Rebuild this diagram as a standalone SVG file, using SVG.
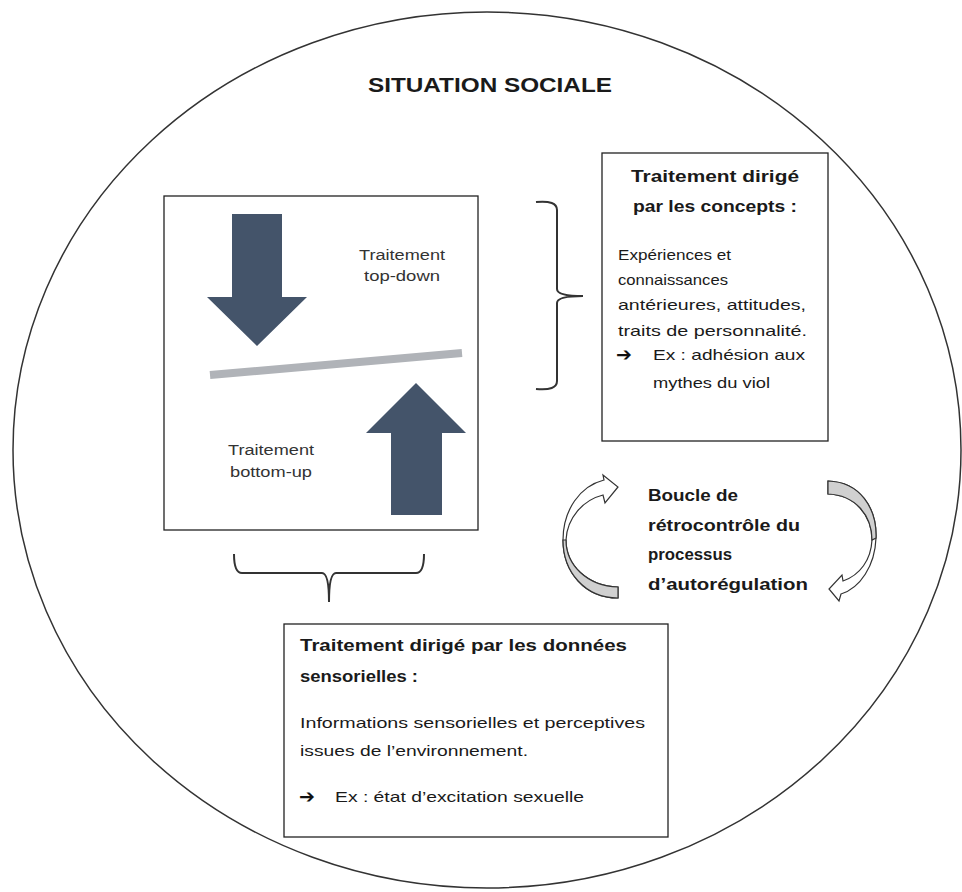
<svg xmlns="http://www.w3.org/2000/svg" width="962" height="892" viewBox="0 0 962 892">
<style>
.t{font-family:"Liberation Sans",Arial,sans-serif;fill:#1a1a1a}
.b{font-weight:bold}
.body{font-size:15px}
.small{font-size:14px;fill:#333}
.box{fill:#fff;stroke:#222;stroke-width:1.3}
.brace{fill:none;stroke:#333;stroke-width:2}
.big{fill:#44546a}
.curv{fill:#fff;stroke:#333;stroke-width:1.2}
.shade{fill:#d0d0d0;stroke:#333;stroke-width:1.2}
.ar{font-family:"DejaVu Sans",sans-serif;font-size:19px;font-weight:bold;fill:#111}
</style>
<rect width="962" height="892" fill="#fff"/>
<g id="situation">
<ellipse cx="487" cy="450" rx="474" ry="438" fill="none" stroke="#333" stroke-width="1.5"/>
<text class="t b" x="490" y="92" font-size="20" text-anchor="middle" textLength="244" lengthAdjust="spacingAndGlyphs">SITUATION SOCIALE</text>
</g>
<g id="processing">
<rect class="box" x="164" y="196" width="314" height="334"/>
<polygon class="big" points="232,214 282,214 282,297 307,297 257,346 207,297 232,297"/>
<line x1="210" y1="375" x2="462" y2="353" stroke="#b0b3b8" stroke-width="8"/>
<polygon class="big" points="416,383 466,433 442,433 442,515 391,515 391,433 366,433"/>
<text class="t small" x="402" y="260" text-anchor="middle" textLength="86" lengthAdjust="spacingAndGlyphs">Traitement</text>
<text class="t small" x="402" y="281" text-anchor="middle" textLength="76" lengthAdjust="spacingAndGlyphs">top-down</text>
<text class="t small" x="271" y="455" text-anchor="middle" textLength="86" lengthAdjust="spacingAndGlyphs">Traitement</text>
<text class="t small" x="271" y="477" text-anchor="middle" textLength="82" lengthAdjust="spacingAndGlyphs">bottom-up</text>
</g>
<g id="connectors">
<path class="brace" d="M536,202 Q557,200 557,210 L557,289 Q557,296 583,296 Q557,296 557,303 L557,381 Q557,391 536,389"/>
<path class="brace" d="M234,554 Q234,573 242,573 L322,573 Q329,573 329,602 Q329,573 336,573 L416,573 Q424,573 424,554"/>
</g>
<g id="concepts">
<rect class="box" x="602" y="153" width="226" height="288"/>
<text class="t b" x="715" y="182" font-size="16.5" text-anchor="middle" textLength="168" lengthAdjust="spacingAndGlyphs">Traitement dirigé</text>
<text class="t b" x="715" y="212" font-size="16.5" text-anchor="middle" textLength="164" lengthAdjust="spacingAndGlyphs">par les concepts :</text>
<text class="t body" x="618" y="260" textLength="113" lengthAdjust="spacingAndGlyphs">Expériences et</text>
<text class="t body" x="618" y="285" textLength="110" lengthAdjust="spacingAndGlyphs">connaissances</text>
<text class="t body" x="618" y="310" textLength="188" lengthAdjust="spacingAndGlyphs">antérieures, attitudes,</text>
<text class="t body" x="618" y="336" textLength="189" lengthAdjust="spacingAndGlyphs">traits de personnalité.</text>
<text class="ar" x="616" y="361">➔</text>
<text class="t body" x="653" y="360" textLength="152" lengthAdjust="spacingAndGlyphs">Ex : adhésion aux</text>
<text class="t body" x="653" y="388" textLength="117" lengthAdjust="spacingAndGlyphs">mythes du viol</text>
</g>
<g id="loop">
<path class="curv" d="M618,598 C585,598 563,572 563,540 C563,510 580,486 604,480 L603,475 L618,487 L605,503 L603,495 C583,500 567,518 566,540 C566,565 587,586 618,587 Z"/>
<path class="shade" d="M618,598 C585,598 563,572 563,540 L566,540 C566,565 587,586 618,587 Z"/>
<path class="curv" d="M828,481 C860,482 877,508 876,538 C875,566 860,588 841,594 L839,601 L829,589 L842,575 L843,581 C860,575 871,560 872,540 C872,515 855,495 828,494 Z"/>
<path class="shade" d="M828,481 C860,482 877,508 876,538 L872,540 C872,515 855,495 828,494 Z"/>
<text class="t b" x="648" y="501" font-size="17" textLength="90" lengthAdjust="spacingAndGlyphs">Boucle de</text>
<text class="t b" x="648" y="531" font-size="17" textLength="152" lengthAdjust="spacingAndGlyphs">rétrocontrôle du</text>
<text class="t b" x="648" y="560" font-size="17" textLength="84" lengthAdjust="spacingAndGlyphs">processus</text>
<text class="t b" x="648" y="590" font-size="17" textLength="160" lengthAdjust="spacingAndGlyphs">d’autorégulation</text>
</g>
<g id="data">
<rect class="box" x="284" y="624" width="384" height="213"/>
<text class="t b" x="300" y="651" font-size="16.5" textLength="327" lengthAdjust="spacingAndGlyphs">Traitement dirigé par les données</text>
<text class="t b" x="300" y="682" font-size="16.5" textLength="118" lengthAdjust="spacingAndGlyphs">sensorielles :</text>
<text class="t body" x="300" y="728" textLength="345" lengthAdjust="spacingAndGlyphs">Informations sensorielles et perceptives</text>
<text class="t body" x="300" y="756" textLength="228" lengthAdjust="spacingAndGlyphs">issues de l’environnement.</text>
<text class="ar" x="299" y="803">➔</text>
<text class="t body" x="335" y="802" textLength="249" lengthAdjust="spacingAndGlyphs">Ex : état d’excitation sexuelle</text>
</g>
</svg>
